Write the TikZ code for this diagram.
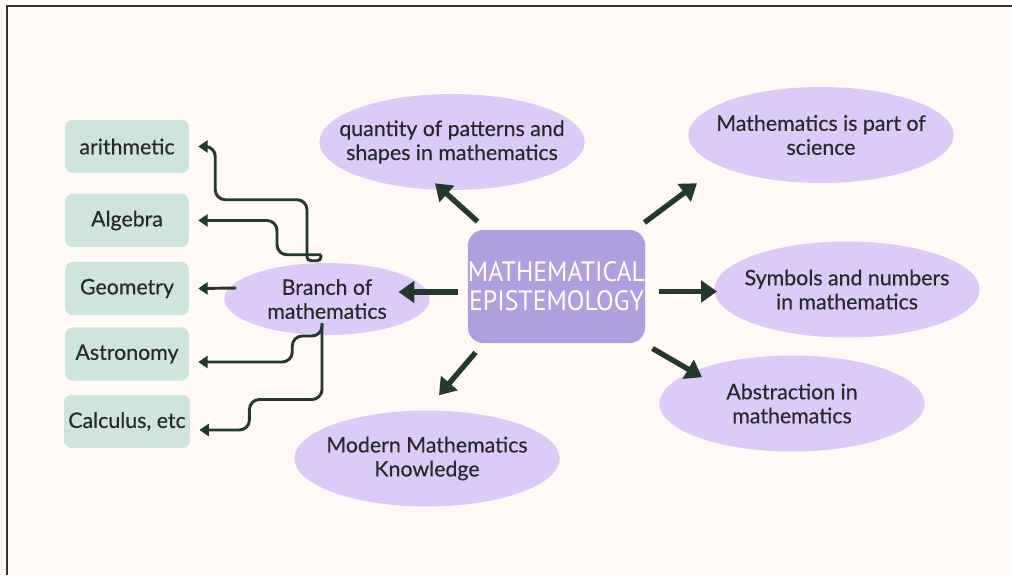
\documentclass[tikz,border=0pt]{standalone}
\usepackage{fontspec}
\setmainfont[FakeBold=0.4]{Lato}
\newfontfamily\hubfont[FakeStretch=0.92]{PT Sans}
\usetikzlibrary{arrows.meta,calc,shapes.geometric}

\definecolor{paper}{HTML}{FFFAF6}
\definecolor{framecol}{HTML}{333333}
\definecolor{bubblecol}{HTML}{DDCBF7}
\definecolor{hubcol}{HTML}{B09FDE}
\definecolor{leafcol}{HTML}{CDE5DD}
\definecolor{ink}{HTML}{25382E}
\definecolor{textink}{HTML}{262A28}

\tikzset{
  bubble/.style={ellipse, fill=bubblecol, inner xsep=-24pt, inner ysep=0pt,
    minimum width=199pt, minimum height=72pt, align=center,
    text=textink, font=\fontsize{16}{18}\selectfont},
  leaf/.style={rectangle, rounded corners=6pt, fill=leafcol,
    minimum width=93pt, minimum height=40pt,
    text=textink, font=\fontsize{16}{18}\selectfont},
  hub/.style={rectangle, rounded corners=12pt, fill=hubcol, inner sep=0pt,
    minimum width=133pt, minimum height=85pt, align=center,
    text=white, font=\hubfont\fontsize{21}{22}\selectfont},
  bigarrow/.style={draw=ink, line width=4pt, -{Triangle[length=12pt,width=16pt]}},
  leafarrow/.style={draw=ink, line width=2.2pt, -{Triangle[length=7pt,width=9pt]}}
}

\begin{document}
\begin{tikzpicture}[x=0.75pt,y=0.75pt]

\useasboundingbox (0,0) rectangle (1012,575);
\fill[paper] (0,0) rectangle (1012,575);
\draw[framecol, line width=1.5pt] (7,0) -- (7,568.5) -- (1012,568.5);

% centre
\node[hub] (hub) at (556.5,288.5) {MATHEMATICAL\\EPISTEMOLOGY};

% topics
\node[bubble] (quantity) at (452,433) {quantity of patterns and\\shapes in mathematics};
\node[bubble] (science) at (821,440) {Mathematics is part of\\science};
\node[bubble] (symbols) at (847,285.5) {Symbols and numbers\\in mathematics};
\node[bubble] (abstraction) at (792,171.5) {Abstraction in\\mathematics};
\node[bubble] (modern) at (427,116.5) {Modern Mathematics\\Knowledge};
\node[bubble, minimum width=154pt, minimum height=54pt] (branch) at (327,276) {Branch of\\mathematics};

% branches
\node[leaf] (arithmetic) at (127,428.5) {arithmetic};
\node[leaf] (algebra) at (127,354.5) {Algebra};
\node[leaf] (geometry) at (127,286.5) {Geometry};
\node[leaf] (astronomy) at (127,221) {Astronomy};
\node[leaf] (calculus) at (127,153.5) {Calculus, etc};

% arrows from the centre
\draw[bigarrow] ($(hub.north west)+(10,8)$) -- ($(quantity.south)+(-17,7)$);
\draw[bigarrow] ($(hub.north east)+(-1,7)$) -- ($(science.south)+(-124,0)$);
\draw[bigarrow] ($(hub.east)+(14,-5)$) -- ($(symbols.west)+(3,-2)$);
\draw[bigarrow] ($(hub.south east)+(7,-5)$) -- ($(abstraction.north)+(-90,-22)$);
\draw[bigarrow] ($(hub.south west)+(8,-9)$) -- ($(modern.north)+(12,15)$);
\draw[bigarrow] ($(hub.west)+(-10,-5.5)$) -- ($(branch.east)+(-31.5,7)$);

% lines to the branches
\coordinate (knot) at ($(branch.north)+(-6,8)$);
\coordinate (root) at ($(branch.south)+(-5,12)$);
\draw[leafarrow, rounded corners=3pt] (knot) -- ++(0,-6) -- ++(-14,0)
  [rounded corners=7.5pt] -- ++(0,61) -| ($(arithmetic.east)+(26,0)$) -- ($(arithmetic.east)+(9,0)$);
\draw[leafarrow, rounded corners=7.5pt] (knot) -- ($(knot)+(-44,0)$) |- ($(algebra.east)+(9,0)$);
\draw[leafarrow] ($(branch.west)+(12,11)$) -- ($(geometry.east)+(9,0)$);
\draw[leafarrow, rounded corners=7.5pt] (root) |- ($(astronomy.east)+(103,18)$) |- ($(astronomy.east)+(9,-8)$);
\draw[leafarrow, rounded corners=7.5pt] (root) |- ($(calculus.east)+(59,22)$) |- ($(calculus.east)+(9,-8.5)$);

\end{tikzpicture}
\end{document}
